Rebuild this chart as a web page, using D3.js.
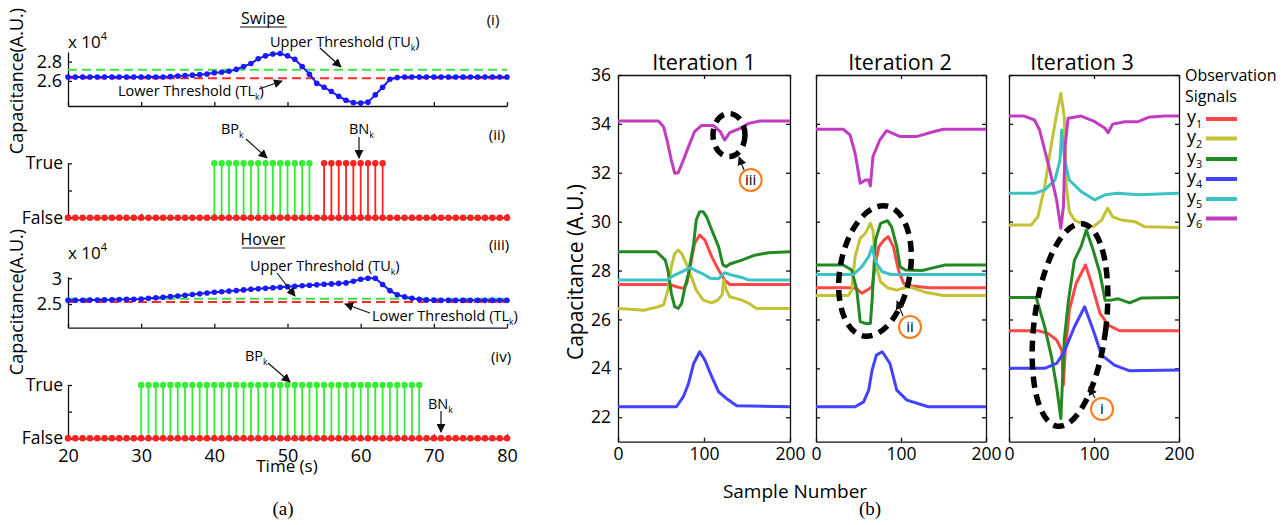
<!DOCTYPE html>
<html>
<head>
<meta charset="utf-8">
<script src="https://cdn.jsdelivr.net/npm/d3@7"></script>
<style>
  body { margin: 0; background: #fff; }
  svg { display: block; }
  text { font-family: "Open Sans", sans-serif; fill: #000; }
</style>
</head>
<body>
<script>
// ---------- data, panel (a) ----------
var times = d3.range(20, 81);
var swipeVals = [2.64,2.64,2.64,2.64,2.64,2.64,2.64,2.64,2.64,2.64,2.64,2.64,2.64,2.64,
  2.645,2.65,2.655,2.66,2.665,2.672,2.685,2.69,2.70,2.72,2.75,2.78,2.83,2.86,2.88,2.885,
  2.86,2.825,2.75,2.67,2.575,2.535,2.49,2.44,2.40,2.375,2.37,2.38,2.455,2.535,2.617,2.635,
  2.64,2.64,2.64,2.64,2.64,2.64,2.64,2.64,2.64,2.64,2.64,2.64,2.64,2.64,2.64];
var hoverVals = [2.571,2.572,2.574,2.576,2.578,2.58,2.583,2.586,2.59,2.593,2.597,2.61,2.62,2.632,
  2.644,2.656,2.67,2.685,2.70,2.713,2.727,2.738,2.75,2.762,2.774,2.785,2.795,2.805,2.815,2.826,
  2.837,2.846,2.855,2.865,2.874,2.883,2.89,2.90,2.91,2.94,2.98,3.0,3.0,2.88,2.76,2.68,2.64,
  2.61,2.59,2.58,2.575,2.571,2.571,2.571,2.571,2.571,2.571,2.571,2.571,2.571,2.571];
var swipeTU = 2.717, swipeTL = 2.628;
var hoverTU = 2.603, hoverTL = 2.54;
var swipeBP = [40,41,42,43,44,45,46,47,48,49,50,51,52,53];
var swipeBN = [55,56,57,58,59,60,61,62,63];
var hoverBP = [30,31,32,33,34,35,36,37,38,39,40,41,42,43,44,45,46,47,48,49,50,51,52,53,54,
  55,56,57,58,59,60,61,62,63,64,65,66,67,68];
var hoverBN = [];
var timeTicks = [20,30,40,50,60,70,80];

// ---------- data, panel (b): [sample, capacitance] ----------
var it1_y1 = [[0,27.43],[60,27.43],[68,27.34],[76,27.27],[80,27.47],[84,28.16],[89,29.11],[95,29.45],[101,29.25],[109,28.57],[117,28.02],[124,27.61],[130,27.43],[200,27.43]];
var it1_y2 = [[0,26.45],[15,26.42],[30,26.38],[45,26.5],[53,26.6],[58,27.2],[62,28.16],[66,28.7],[70,28.84],[74,28.7],[80,28.23],[86,27.68],[91,27.2],[99,26.79],[109,26.68],[116,26.79],[121,27.0],[123,27.61],[126,27.2],[130,26.93],[144,26.79],[152,26.66],[161,26.45],[200,26.45]];
var it1_y3 = [[0,28.77],[45,28.77],[55,28.43],[58,28.02],[62,27.07],[66,26.52],[70,26.45],[74,26.66],[78,27.34],[82,27.89],[88,29.11],[91,30.07],[95,30.41],[99,30.41],[103,30.2],[109,29.66],[117,28.97],[122,28.23],[126,28.16],[130,28.27],[144,28.43],[159,28.63],[175,28.73],[200,28.77]];
var it1_y4 = [[0,22.43],[68,22.43],[76,22.84],[82,23.38],[88,24.2],[95,24.68],[101,24.34],[109,23.66],[117,23.04],[126,22.77],[138,22.47],[200,22.43]];
var it1_y5 = [[0,27.61],[57,27.61],[64,27.78],[74,27.95],[84,28.12],[91,27.99],[99,27.86],[107,27.69],[117,27.67],[124,27.91],[132,27.82],[144,27.72],[152,27.61],[200,27.61]];
var it1_y6 = [[0,34.12],[47,34.12],[53,33.88],[57,33.34],[62,32.52],[66,31.98],[70,32.0],[76,32.52],[82,33.07],[89,33.68],[97,33.93],[111,33.93],[119,33.68],[124,33.34],[130,33.64],[142,33.82],[152,34.02],[165,34.12],[200,34.12]];

var it2_y1 = [[0,27.3],[42,27.3],[48,27.25],[54,27.07],[60,27.2],[66,27.34],[70,28.29],[74,28.98],[80,29.25],[85,29.39],[91,28.98],[97,28.02],[103,27.48],[113,27.37],[133,27.3],[200,27.3]];
var it2_y2 = [[0,26.98],[38,26.98],[42,27.2],[46,28.57],[52,29.32],[58,29.52],[64,29.93],[67,29.66],[70,28.29],[76,27.54],[84,27.3],[95,27.2],[109,27.35],[130,27.1],[150,26.98],[200,26.98]];
var it2_y3 = [[0,28.23],[32,28.23],[42,28.02],[48,27.2],[52,25.91],[58,25.84],[64,25.84],[66,26.79],[70,29.25],[76,29.93],[84,30.04],[89,29.79],[95,28.98],[99,28.16],[105,28.02],[125,28.0],[140,28.13],[152,28.23],[200,28.23]];
var it2_y4 = [[0,22.43],[46,22.43],[56,22.63],[62,23.11],[66,23.93],[71,24.54],[78,24.68],[87,24.2],[95,23.11],[107,22.7],[132,22.43],[200,22.43]];
var it2_y5 = [[0,27.84],[44,27.84],[54,28.16],[62,28.57],[66,28.98],[70,28.36],[78,27.95],[88,27.84],[200,27.84]];
var it2_y6 = [[0,33.78],[32,33.78],[40,33.55],[46,32.8],[52,31.57],[58,31.7],[62,31.7],[64,31.46],[67,32.66],[75,33.34],[83,33.72],[99,33.48],[118,33.48],[138,33.68],[150,33.78],[200,33.78]];

var it3_y1 = [[0,25.54],[34,25.54],[46,25.43],[56,25.16],[62,24.75],[64,23.32],[66,24.61],[71,26.38],[79,27.48],[90,28.23],[97,27.48],[107,26.25],[117,25.77],[130,25.54],[200,25.54]];
var it3_y2 = [[0,29.86],[26,29.86],[34,30.2],[42,31.43],[50,33.2],[57,34.57],[61,35.25],[65,34.29],[67.5,31.43],[71,30.41],[77,30.07],[89,29.86],[99,29.79],[109,30.07],[116,30.55],[122,30.2],[132,30.07],[148,30.0],[160,29.79],[200,29.76]];
var it3_y3 = [[0,26.9],[32,26.9],[42,25.7],[50,24.47],[56,23.25],[61,21.95],[65,25.16],[70,26.79],[77,28.43],[85,29.0],[91,29.66],[99,28.84],[107,27.89],[113,26.79],[120,26.79],[128,26.85],[142,26.68],[156,26.88],[200,26.9]];
var it3_y4 = [[0,24.0],[42,24.0],[56,24.2],[65,24.68],[77,25.7],[89,26.52],[99,25.57],[109,24.54],[124,24.13],[142,23.9],[200,23.93]];
var it3_y5 = [[0,31.16],[30,31.16],[42,31.3],[54,31.7],[60,32.52],[62,33.75],[65.5,32.52],[71,31.7],[85,31.23],[101,30.89],[113,31.1],[128,31.16],[152,31.1],[200,31.16]];
var it3_y6 = [[0,34.32],[18,34.32],[30,34.16],[36,33.75],[42,32.93],[48,32.11],[56,30.89],[61,29.73],[64,30.61],[66,33.07],[69.5,34.23],[85,34.32],[101,34.09],[113,33.82],[116.5,33.64],[122,33.99],[136,34.09],[152,34.09],[164,34.27],[183,34.32],[200,34.32]];

var iterNames = ['Iteration 1', 'Iteration 2', 'Iteration 3'];
var signalNums = ['1', '2', '3', '4', '5', '6'];
var sigColors = ['#ff4747', '#c2c235', '#238a23', '#4242ff', '#3cc2c2', '#c23cc2'];
var capTicks = [22, 24, 26, 28, 30, 32, 34, 36];
var sampleTicks = [0, 100, 200];

var iterations = [
  [it1_y1, it1_y2, it1_y3, it1_y4, it1_y5, it1_y6],
  [it2_y1, it2_y2, it2_y3, it2_y4, it2_y5, it2_y6],
  [it3_y1, it3_y2, it3_y3, it3_y4, it3_y5, it3_y6]
];

// ---------- drawing ----------
var svg = d3.select('body').append('svg').attr('width', 1288).attr('height', 525);
svg.append('rect').attr('width', 1288).attr('height', 525).attr('fill', '#fff');

var defs = svg.append('defs');
defs.append('marker').attr('id', 'arr')
  .attr('viewBox', '0 0 10 10').attr('refX', 9).attr('refY', 5)
  .attr('markerWidth', 9).attr('markerHeight', 9).attr('markerUnits', 'userSpaceOnUse')
  .attr('orient', 'auto')
  .append('path').attr('d', 'M0,0L10,5L0,10z').attr('fill', '#111');

function subText(g, x, y, main, sub, tail, size, anchor) {
  var t = g.append('text').attr('x', x).attr('y', y)
    .attr('font-size', size).attr('text-anchor', anchor || 'start');
  t.append('tspan').text(main);
  t.append('tspan').attr('font-size', size * 0.6).attr('dy', size * 0.28).text(sub);
  if (tail) t.append('tspan').attr('dy', -size * 0.28).text(tail);
  return t;
}

function arrow(g, x1, y1, x2, y2) {
  g.append('line').attr('x1', x1).attr('y1', y1).attr('x2', x2).attr('y2', y2)
    .attr('stroke', '#111').attr('stroke-width', 1.2).attr('marker-end', 'url(#arr)');
}

function styleAxis(ax, size) {
  ax.selectAll('path,line').attr('stroke', '#111').attr('stroke-width', 1.3);
  ax.selectAll('text').attr('font-size', size).attr('fill', '#000')
    .style('font-family', '"Open Sans", sans-serif');
}

var x = d3.scaleLinear().domain([20, 80]).range([68, 507]);

function signalPanel(vals, dom, rng, yTicks, tu, tl) {
  var y = d3.scaleLinear().domain(dom).range(rng);
  var g = svg.append('g');
  var bx = g.append('g').attr('transform', 'translate(0,' + rng[0] + ')')
    .call(d3.axisBottom(x).tickValues(timeTicks).tickSize(-4).tickSizeOuter(0).tickFormat(''));
  styleAxis(bx, 18);
  var ly = g.append('g').attr('transform', 'translate(68,0)')
    .call(d3.axisLeft(y).tickValues(yTicks).tickSize(-4).tickSizeOuter(0).tickPadding(6).tickFormat(d3.format('~g')));
  styleAxis(ly, 18);

  g.append('line').attr('x1', x(20)).attr('x2', x(80)).attr('y1', y(tu)).attr('y2', y(tu))
    .attr('stroke', '#3ee03e').attr('stroke-width', 2).attr('stroke-dasharray', '9,5');
  g.append('line').attr('x1', x(20)).attr('x2', x(80)).attr('y1', y(tl)).attr('y2', y(tl))
    .attr('stroke', '#ff2a2a').attr('stroke-width', 2).attr('stroke-dasharray', '9,5');

  var line = d3.line().x(function(d, i) { return x(times[i]); }).y(function(d) { return y(d); });
  g.append('path').datum(vals).attr('d', line).attr('fill', 'none')
    .attr('stroke', '#1a1aff').attr('stroke-width', 2);
  g.selectAll('circle.pt').data(vals).enter().append('circle')
    .attr('cx', function(d, i) { return x(times[i]); })
    .attr('cy', function(d) { return y(d); })
    .attr('r', 2.8).attr('fill', '#1a1aff');
  return g;
}

function stemPanel(bp, bn, yFalse, yTrue, labels) {
  var y = d3.scaleLinear().domain([0, 1]).range([yFalse, yTrue]);
  var g = svg.append('g');
  var bx = g.append('g').attr('transform', 'translate(0,' + yFalse + ')')
    .call(d3.axisBottom(x).tickValues(timeTicks).tickSize(-4).tickSizeOuter(0)
      .tickPadding(11).tickFormat(labels ? d3.format('d') : ''));
  styleAxis(bx, 18);
  var ly = g.append('g').attr('transform', 'translate(68,0)')
    .call(d3.axisLeft(y).tickValues([0, 0.5, 1]).tickSize(-4).tickSizeOuter(0).tickPadding(5)
      .tickFormat(function(d) { return d === 1 ? 'True' : d === 0 ? 'False' : ''; }));
  styleAxis(ly, 17.5);

  g.selectAll('line.bp').data(bp).enter().append('line')
    .attr('x1', function(d) { return x(d); }).attr('x2', function(d) { return x(d); })
    .attr('y1', y(0)).attr('y2', y(1)).attr('stroke', '#33ee33').attr('stroke-width', 1.8);
  g.selectAll('circle.bp').data(bp).enter().append('circle')
    .attr('cx', function(d) { return x(d); }).attr('cy', y(1)).attr('r', 3.2).attr('fill', '#33ee33');
  g.selectAll('line.bn').data(bn).enter().append('line')
    .attr('x1', function(d) { return x(d); }).attr('x2', function(d) { return x(d); })
    .attr('y1', y(0)).attr('y2', y(1)).attr('stroke', '#ff2020').attr('stroke-width', 1.8);
  g.selectAll('circle.bn').data(bn).enter().append('circle')
    .attr('cx', function(d) { return x(d); }).attr('cy', y(1)).attr('r', 3.2).attr('fill', '#ff2020');
  g.selectAll('circle.f').data(times).enter().append('circle')
    .attr('cx', function(d) { return x(d); }).attr('cy', y(0)).attr('r', 3.3).attr('fill', '#ff2020');
  return g;
}

// (i) swipe
signalPanel(swipeVals, [2.34, 2.9], [106, 52], [2.6, 2.8], swipeTU, swipeTL);
// (ii)
stemPanel(swipeBP, swipeBN, 217.7, 163.3, false);
// (iii) hover
signalPanel(hoverVals, [2.04, 3.03], [327.7, 276.7], [2.5, 3], hoverTU, hoverTL);
// (iv)
stemPanel(hoverBP, hoverBN, 438.3, 385, true);

var ann = svg.append('g');
// titles
ann.append('text').attr('x', 263).attr('y', 24).attr('text-anchor', 'middle').attr('font-size', 16).text('Swipe');
ann.append('line').attr('x1', 240).attr('x2', 287).attr('y1', 27).attr('y2', 27).attr('stroke', '#111').attr('stroke-width', 1.2);
ann.append('text').attr('x', 263).attr('y', 245).attr('text-anchor', 'middle').attr('font-size', 16).text('Hover');
ann.append('line').attr('x1', 242).attr('x2', 285).attr('y1', 248).attr('y2', 248).attr('stroke', '#111').attr('stroke-width', 1.2);
ann.append('text').attr('x', 493).attr('y', 25).attr('text-anchor', 'middle').attr('font-size', 15).text('(i)');
ann.append('text').attr('x', 497).attr('y', 140).attr('text-anchor', 'middle').attr('font-size', 15).text('(ii)');
ann.append('text').attr('x', 499).attr('y', 250).attr('text-anchor', 'middle').attr('font-size', 15).text('(iii)');
ann.append('text').attr('x', 501).attr('y', 362).attr('text-anchor', 'middle').attr('font-size', 15).text('(iv)');

// exponents
[48, 259].forEach(function(yy) {
  var t = ann.append('text').attr('x', 68).attr('y', yy).attr('font-size', 17);
  t.append('tspan').text('x 10');
  t.append('tspan').attr('font-size', 11).attr('dy', -8).text('4');
});

// threshold labels
subText(ann, 270, 47, 'Upper Threshold (TU', 'k', ')', 14.5);
subText(ann, 118, 96, 'Lower Threshold (TL', 'k', ')', 14.5);
arrow(ann, 320, 48, 341, 67);
arrow(ann, 259, 89, 282, 81);
subText(ann, 250, 271, 'Upper Threshold (TU', 'k', ')', 14.5);
subText(ann, 372, 321, 'Lower Threshold (TL', 'k', ')', 14.5);
arrow(ann, 277, 273, 295, 296);
arrow(ann, 370, 313, 345, 304);

subText(ann, 221, 134, 'BP', 'k', null, 14.5);
subText(ann, 349, 134, 'BN', 'k', null, 14.5);
arrow(ann, 246, 139, 267, 158);
arrow(ann, 359, 137, 359, 158);
subText(ann, 245, 361, 'BP', 'k', null, 14.5);
subText(ann, 428, 409, 'BN', 'k', null, 14.5);
arrow(ann, 268, 363, 290, 382);
arrow(ann, 441, 411, 441, 432);

ann.append('text').attr('transform', 'translate(23,81) rotate(-90)').attr('text-anchor', 'middle')
  .attr('font-size', 18).text('Capacitance(A.U.)');
ann.append('text').attr('transform', 'translate(23,302) rotate(-90)').attr('text-anchor', 'middle')
  .attr('font-size', 18).text('Capacitance(A.U.)');
ann.append('text').attr('x', 287).attr('y', 472).attr('text-anchor', 'middle').attr('font-size', 17).text('Time (s)');

ann.append('text').attr('x', 283).attr('y', 515).attr('text-anchor', 'middle').attr('font-size', 19)
  .style('font-family', '"Liberation Serif", serif').text('(a)');
ann.append('text').attr('x', 870).attr('y', 515).attr('text-anchor', 'middle').attr('font-size', 19)
  .style('font-family', '"Liberation Serif", serif').text('(b)');

// ---------- panel (b) ----------
var yc = d3.scaleLinear().domain([21, 36]).range([441.7, 75]);
var panelX = [[618, 790], [816, 986], [1009, 1179]];
var titleX = [704, 900, 1082];

iterations.forEach(function(series, k) {
  var xs = d3.scaleLinear().domain([0, 200]).range(panelX[k]);
  var g = svg.append('g');
  var l = g.append('g').attr('transform', 'translate(' + panelX[k][0] + ',0)')
    .call(d3.axisLeft(yc).tickValues(capTicks).tickSize(-4).tickSizeOuter(0).tickPadding(7)
      .tickFormat(k === 0 ? d3.format('d') : ''));
  styleAxis(l, 17.5);
  var r = g.append('g').attr('transform', 'translate(' + panelX[k][1] + ',0)')
    .call(d3.axisRight(yc).tickValues(capTicks).tickSize(-4).tickSizeOuter(0).tickFormat(''));
  styleAxis(r, 17.5);
  var b = g.append('g').attr('transform', 'translate(0,441.7)')
    .call(d3.axisBottom(xs).tickValues(sampleTicks).tickSize(-4).tickSizeOuter(0).tickPadding(6));
  styleAxis(b, 17.5);
  var t = g.append('g').attr('transform', 'translate(0,75)')
    .call(d3.axisTop(xs).tickValues(sampleTicks).tickSize(-4).tickSizeOuter(0).tickFormat(''));
  styleAxis(t, 17.5);

  var line = d3.line().x(function(d) { return xs(d[0]); }).y(function(d) { return yc(d[1]); });
  series.forEach(function(s, j) {
    g.append('path').datum(s).attr('d', line).attr('fill', 'none')
      .attr('stroke', sigColors[j]).attr('stroke-width', 3).attr('stroke-linejoin', 'round');
  });
  g.append('text').attr('x', titleX[k]).attr('y', 70).attr('text-anchor', 'middle')
    .attr('font-size', 21.5).text(iterNames[k]);
});

svg.append('text').attr('transform', 'translate(583,272) rotate(-90)').attr('text-anchor', 'middle')
  .attr('font-size', 21).text('Capacitance (A.U.)');
svg.append('text').attr('x', 795).attr('y', 498).attr('text-anchor', 'middle')
  .attr('font-size', 19).text('Sample Number');

// legend
var leg = svg.append('g');
leg.append('text').attr('x', 1185).attr('y', 81).attr('font-size', 16).text('Observation');
leg.append('text').attr('x', 1185).attr('y', 102).attr('font-size', 16).text('Signals');
var legY = [119, 138.5, 159, 179, 199, 218.5];
signalNums.forEach(function(n, j) {
  subText(leg, 1187, legY[j] + 4, 'y', n, null, 18);
  leg.append('line').attr('x1', 1206).attr('x2', 1237).attr('y1', legY[j]).attr('y2', legY[j])
    .attr('stroke', sigColors[j]).attr('stroke-width', 4);
});

// dashed ellipses and callouts
var marks = [
  {cx: 729, cy: 135, rx: 16, ry: 21.5, rot: 0, lx: 750.7, ly: 180, lab: 'iii', a: [744, 170, 739, 157]},
  {cx: 875, cy: 271, rx: 35, ry: 66, rot: 10, lx: 910, ly: 327, lab: 'ii', a: [903, 316, 897, 301]},
  {cx: 1070, cy: 325, rx: 36, ry: 102, rot: 7, lx: 1102, ly: 409, lab: 'i', a: [1095, 398, 1089, 387]}
];
marks.forEach(function(m) {
  svg.append('ellipse').attr('cx', 0).attr('cy', 0).attr('rx', m.rx).attr('ry', m.ry)
    .attr('transform', 'translate(' + m.cx + ',' + m.cy + ') rotate(' + m.rot + ')')
    .attr('fill', 'none').attr('stroke', '#000').attr('stroke-width', 5.5)
    .attr('stroke-dasharray', '11,7');
  svg.append('circle').attr('cx', m.lx).attr('cy', m.ly).attr('r', 11)
    .attr('fill', '#fff').attr('stroke', '#ff7a1a').attr('stroke-width', 2);
  svg.append('text').attr('x', m.lx).attr('y', m.ly + 5).attr('text-anchor', 'middle')
    .attr('font-size', 15).text(m.lab);
  arrow(svg, m.a[0], m.a[1], m.a[2], m.a[3]);
});
</script>
</body>
</html>
